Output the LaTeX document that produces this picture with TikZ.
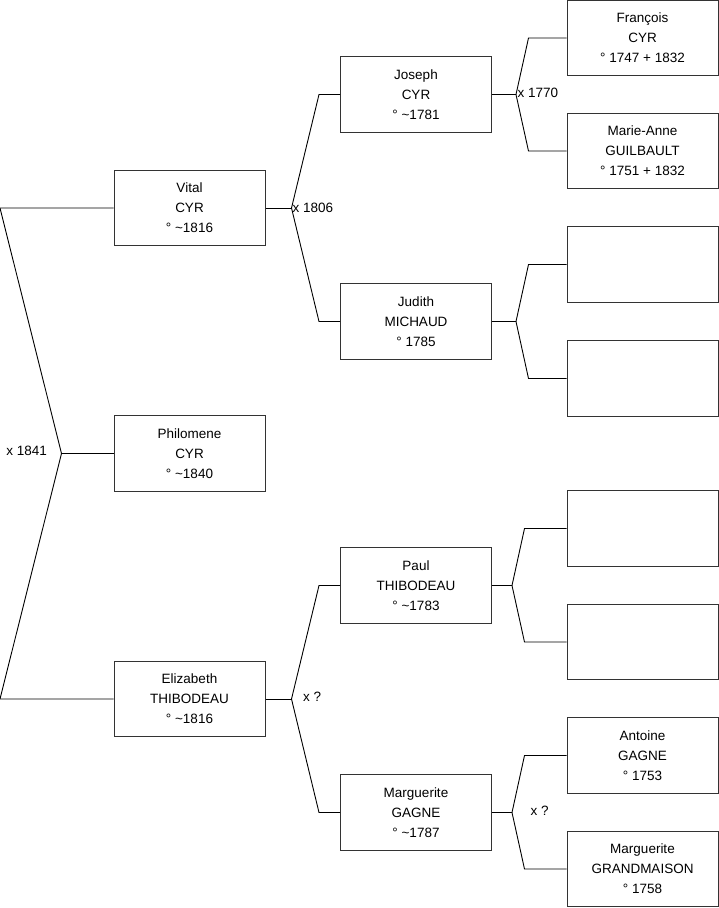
\documentclass[tikz,border=0pt]{standalone}
\usepackage{fontspec}
\setmainfont{Liberation Sans}

\begin{document}
\begin{tikzpicture}[
  x=1pt,y=-1pt,
  font=\fontsize{13.5}{20}\selectfont,
  person/.style={draw=black!80,line width=1pt,minimum width=151pt,minimum height=75.5pt,inner sep=0pt,align=center},
  link/.style={line width=0.9pt},
  wedding/.style={inner sep=0pt}
]
\useasboundingbox (0,0) rectangle (719,908);

% child
\node[person] (philomene) at (189.5,453.5) {Philomene\\CYR\\° \textasciitilde1840};

% parents
\node[person] (vital) at (189.5,208) {Vital\\CYR\\° \textasciitilde1816};
\node[person] (elizabeth) at (189.5,699) {Elizabeth\\THIBODEAU\\° \textasciitilde1816};

% grandparents
\node[person] (joseph) at (416,94.5) {Joseph\\CYR\\° \textasciitilde1781};
\node[person] (judith) at (416,321.5) {Judith\\MICHAUD\\° 1785};
\node[person] (paul) at (416,585.5) {Paul\\THIBODEAU\\° \textasciitilde1783};
\node[person] (marguerite) at (416,812.5) {Marguerite\\GAGNE\\° \textasciitilde1787};

% great-grandparents
\node[person] (francois) at (642.5,38) {François\\CYR\\° 1747 + 1832};
\node[person] (marieanne) at (642.5,151) {Marie-Anne\\GUILBAULT\\° 1751 + 1832};
\node[person] (e1) at (642.5,264.5) {};
\node[person] (e2) at (642.5,378.5) {};
\node[person] (e3) at (642.5,528.5) {};
\node[person] (e4) at (642.5,642) {};
\node[person] (antoine) at (642.5,755.5) {Antoine\\GAGNE\\° 1753};
\node[person] (grandmaison) at (642.5,869) {Marguerite\\GRANDMAISON\\° 1758};

% forks
\draw[link] (philomene.west) -- ++(-52,0) coordinate (philomene-v);
\draw[link] (vital.west) -- ++(-113.5,0) -- (philomene-v) -- ([xshift=-113.5pt]elizabeth.west) -- (elizabeth.west);
\foreach \child/\dad/\mom/\dx/\ex in {vital/joseph/judith/26/21,elizabeth/paul/marguerite/26/21,
  joseph/francois/marieanne/24/38,judith/e1/e2/24/38,paul/e3/e4/20/42,marguerite/antoine/grandmaison/20/42}{
  \draw[link] (\child.east) -- ++(\dx,0) coordinate (\child-v);
  \draw[link] (\dad.west) -- ++(-\ex,0) -- (\child-v) -- ([xshift=-\ex pt]\mom.west) -- (\mom.west);
}

% weddings
\node[wedding,anchor=east] (w1841) at (47,451) {x 1841};
\node[wedding,anchor=west] (w1806) at (292.5,208) {x 1806};
\node[wedding,anchor=west] (wthib) at (303,697) {x ?};
\node[wedding,anchor=west] (w1770) at (517.5,93) {x 1770};
\node[wedding,anchor=west] (wgagne) at (530.5,811) {x ?};
\end{tikzpicture}
\end{document}
